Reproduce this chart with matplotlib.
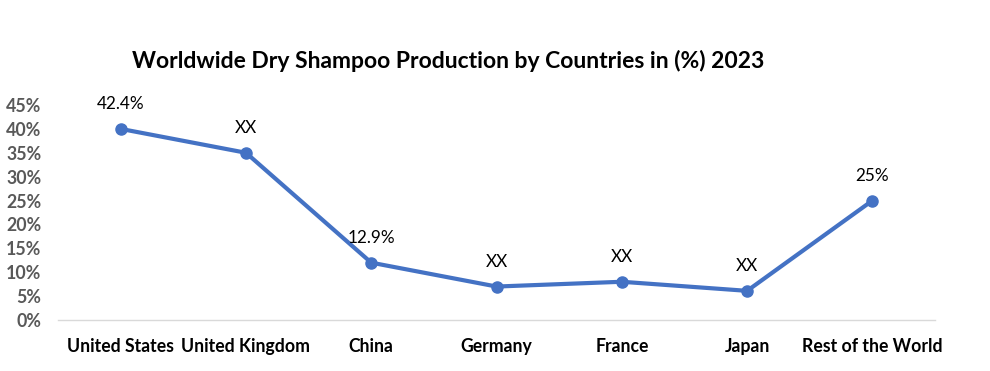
import numpy as np
from matplotlib import pyplot as plt
from matplotlib.ticker import PercentFormatter

countries = ['United States', 'United Kingdom', 'China', 'Germany', 'France', 'Japan', 'Rest of the World']
shares = [40, 35, 12, 7, 8, 6.1, 25]
point_labels = ['42.4%', 'XX', '12.9%', 'XX', 'XX', 'XX', '25%']

plt.rcParams['font.family'] = ['Lato', 'DejaVu Sans']

fig = plt.figure(figsize=(9.9, 3.71), dpi=100)
ax = fig.add_axes([0.0586, 0.1375, 0.8859, 0.5795])

x = np.arange(len(countries))
ax.plot(x, shares, color='#4472C4', linewidth=3, marker='o', markersize=8)

for xi, yi, lab in zip(x, shares, point_labels):
    ax.annotate(lab, (xi, yi), xytext=(0, 18), textcoords='offset points',
                ha='center', va='center', fontsize=12.3, color='#000000')

ax.set_xlim(-0.5, len(countries) - 0.5)
ax.set_ylim(0, 45)
ax.set_yticks(np.arange(0, 46, 5))
ax.yaxis.set_major_formatter(PercentFormatter(decimals=0))
ax.set_xticks(x)
ax.set_xticklabels(countries, fontweight='bold', fontsize=12.7, color='#000000')

for lbl in ax.get_yticklabels():
    lbl.set_fontweight('bold')
    lbl.set_fontsize(12.8)
    lbl.set_color('#595959')

ax.tick_params(axis='both', length=0)
ax.tick_params(axis='y', pad=12)
ax.tick_params(axis='x', pad=13)

for side in ['top', 'right', 'left']:
    ax.spines[side].set_visible(False)
ax.spines['bottom'].set_color('#D9D9D9')
ax.spines['bottom'].set_linewidth(1)

fig.text(0.453, 0.835, 'Worldwide Dry Shampoo Production by Countries in (%) 2023',
         ha='center', va='center', fontsize=16.5, fontweight='bold', color='#000000')

plt.savefig('out.png', dpi=100)
